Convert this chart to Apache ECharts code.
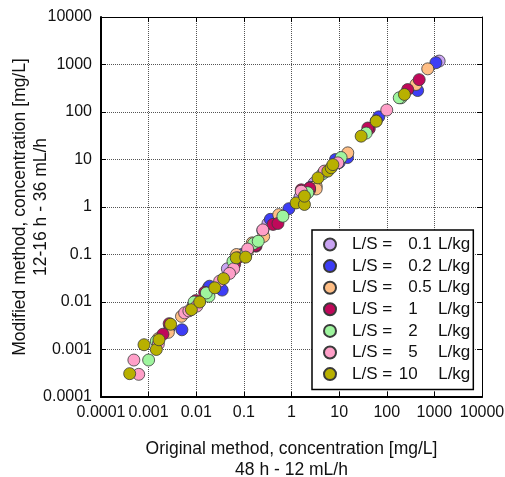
<!DOCTYPE html>
<html>
<head>
<meta charset="utf-8">
<script src="https://cdn.jsdelivr.net/npm/echarts@6/dist/echarts.min.js"></script>
<style>
  body { margin: 0; background: #fff; }
  #chart { width: 505px; height: 477px; }
</style>
</head>
<body>
<div id="chart"></div>
<script>
// tick labels for both log axes (one per decade, 1e-4 .. 1e4)
var tickLabels = ['0.0001', '0.001', '0.01', '0.1', '1', '10', '100', '1000', '10000'];

// L/S ratios (legend) and colours
var lsValues = ['0.1', '0.2', '0.5', '1', '2', '5', '10'];
var lsColors = ['#c9a3f2', '#3d3df5', '#ffbe85', '#c0085a', '#9ef59e', '#ff9fc8', '#b8b000'];

// [original, modified] concentration pairs
var ls01 = [[1260, 1180], [0.018, 0.02], [0.32, 0.45], [0.11, 0.1], [5, 5.5], [0.0085, 0.008],
            [1.5, 1.6], [0.06, 0.065], [3, 3.2], [0.045, 0.05]];
var ls02 = [[1075, 1090], [445, 283], [68, 79], [15, 11], [8.4, 10], [0.88, 0.92], [0.36, 0.55],
            [0.25, 0.32], [0.035, 0.0178], [0.019, 0.0215], [0.005, 0.0026], [0.0028, 0.003],
            [0.09, 0.1], [2.5, 2.6], [10, 8.6]];
var ls05 = [[725, 810], [410, 380], [15.2, 13.8], [0.54, 0.69], [0.26, 0.24], [0.15, 0.176],
            [0.0049, 0.005], [0.0026, 0.0023], [3.3, 2.74], [0.009, 0.009], [0.07, 0.1],
            [0.12, 0.12], [60, 65], [3.3, 2.4], [0.0016, 0.0017]];
var ls1 = [[480, 480], [275, 297], [43, 44.5], [2.4, 2.3], [0.41, 0.43], [0.52, 0.45], [0.18, 0.15],
           [0.064, 0.062], [0.0098, 0.0107], [0.002, 0.0021], [0.0027, 0.0035], [0.176, 0.155],
           [0.075, 0.085], [0.015, 0.016], [40, 46], [1.6, 2.3], [2.4, 2.5]];
var ls2 = [[200, 199], [37, 36], [11, 11], [2.2, 2.0], [0.66, 0.64], [0.059, 0.072],
           [0.0185, 0.0132], [0.0163, 0.0155], [0.001, 0.0006], [0.00145, 0.0015], [0.16, 0.17],
           [0.2, 0.19], [4.5, 5], [0.11, 0.1], [0.009, 0.01], [183, 199]];
var ls5 = [[100, 110], [0.00062, 0.0003], [0.00049, 0.0006], [0.0057, 0.0059], [0.0103, 0.0082],
           [0.031, 0.0275], [0.061, 0.05], [1.6, 2.15], [4.9, 5.7], [0.0016, 0.0013], [0.12, 0.13],
           [0.007, 0.0065], [0.25, 0.33], [9.4, 8.5], [0.05, 0.04]];
var ls10 = [[0.0004, 0.00031], [0.0008, 0.00126], [0.00145, 0.001], [0.00165, 0.0016],
            [0.0029, 0.0034], [0.0079, 0.0069], [0.0118, 0.01], [0.0245, 0.0199], [0.0375, 0.031],
            [0.069, 0.085], [0.109, 0.088], [1.25, 1.22], [1.87, 1.13], [1.87, 1.69], [3.6, 4.1],
            [5.8, 5.7], [6.8, 6.7], [7.4, 7.8], [29, 31], [60, 64], [235, 234]];
var lsData = [ls01, ls02, ls05, ls1, ls2, ls5, ls10];

var chart = echarts.init(document.getElementById('chart'));
var font = "'Liberation Sans', Arial, sans-serif";
var ink = '#111';

function logLabel(v) {
    return tickLabels[Math.round(Math.log10(v)) + 4];
}

var series = [];
for (var i = 0; i < lsValues.length; i++) {
    series.push({
        name: lsValues[i],
        type: 'scatter',
        symbol: 'circle',
        symbolSize: 12,
        itemStyle: { color: lsColors[i], borderColor: '#3a3a3a', borderWidth: 0.8, opacity: 1 },
        data: lsData[i]
    });
}

var gridLine = { show: true, lineStyle: { type: 'dotted', color: '#555', width: 1 } };

// legend text pieces: "L/S =" | integer part (right aligned) | fraction | "L/kg"
function legendStyle(pad) {
    return { fontFamily: font, fontSize: 17, color: ink, lineHeight: 18, padding: pad };
}

var option = {
    backgroundColor: '#fff',
    animation: false,
    textStyle: { fontFamily: font },
    grid: { left: 101, top: 17, width: 381, height: 380, outerBoundsMode: 'none', containLabel: false },
    legend: {
        orient: 'vertical',
        left: 312,
        top: 230,
        padding: [6, 3, 7, 11],
        backgroundColor: '#fff',
        borderColor: '#000',
        borderWidth: 1.5,
        itemWidth: 12,
        itemHeight: 12,
        itemGap: 4.6,
        icon: 'circle',
        data: lsValues,
        formatter: function (name) {
            var parts = name.split('.');
            var s = '{a|L/S =}' + (parts[0].length > 1 ? '{i2|' : '{i1|') + parts[0] + '}';
            if (parts.length > 1) {
                s += '{f|.' + parts[1] + '}{u1|L/kg}';
            } else {
                s += '{u0|L/kg}';
            }
            return s;
        },
        textStyle: {
            fontFamily: font,
            fontSize: 17,
            color: ink,
            rich: {
                a: legendStyle([0, 0, 0, 11]),
                i1: legendStyle([0, 0, 0, 16]),
                i2: legendStyle([0, 0, 0, 6.6]),
                f: legendStyle([0, 0, 0, 0]),
                u1: legendStyle([0, 0, 0, 6.3]),
                u0: legendStyle([0, 0, 0, 20.5])
            }
        }
    },
    xAxis: [{
        type: 'log',
        logBase: 10,
        min: 0.0001,
        max: 10000,
        splitNumber: 8,
        position: 'bottom',
        axisLine: { show: true, onZero: false, lineStyle: { color: '#000', width: 2 } },
        axisTick: { show: true, inside: true, length: 5, lineStyle: { color: '#000' } },
        axisLabel: { formatter: logLabel, fontSize: 16, color: ink, margin: 8, fontFamily: font },
        splitLine: gridLine,
        name: 'Original method, concentration [mg/L]\n48 h - 12 mL/h',
        nameLocation: 'middle',
        nameMoveOverlap: false,
        nameGap: 41.5,
        nameTextStyle: { fontSize: 17.5, color: ink, lineHeight: 21, fontFamily: font }
    }, {
        type: 'log',
        logBase: 10,
        min: 0.0001,
        max: 10000,
        splitNumber: 8,
        position: 'top',
        axisLine: { show: true, onZero: false, lineStyle: { color: '#000', width: 1 } },
        axisTick: { show: true, inside: true, length: 5, lineStyle: { color: '#000' } },
        axisLabel: { show: false },
        splitLine: { show: false }
    }],
    yAxis: [{
        type: 'log',
        logBase: 10,
        min: 0.0001,
        max: 10000,
        splitNumber: 8,
        position: 'left',
        axisLine: { show: true, onZero: false, lineStyle: { color: '#000', width: 2 } },
        axisTick: { show: true, inside: true, length: 5, lineStyle: { color: '#000' } },
        axisLabel: { formatter: logLabel, fontSize: 16, color: ink, margin: 9, fontFamily: font },
        splitLine: gridLine,
        name: 'Modified method, concentration [mg/L]\n12-16 h - 36 mL/h',
        nameLocation: 'middle',
        nameMoveOverlap: false,
        nameGap: 49,
        nameTextStyle: { fontSize: 17.5, color: ink, lineHeight: 21, fontFamily: font }
    }, {
        type: 'log',
        logBase: 10,
        min: 0.0001,
        max: 10000,
        splitNumber: 8,
        position: 'right',
        axisLine: { show: true, onZero: false, lineStyle: { color: '#000', width: 1 } },
        axisTick: { show: true, inside: true, length: 5, lineStyle: { color: '#000' } },
        axisLabel: { show: false },
        splitLine: { show: false }
    }],
    series: series
};
chart.setOption(option);
</script>
</body>
</html>
